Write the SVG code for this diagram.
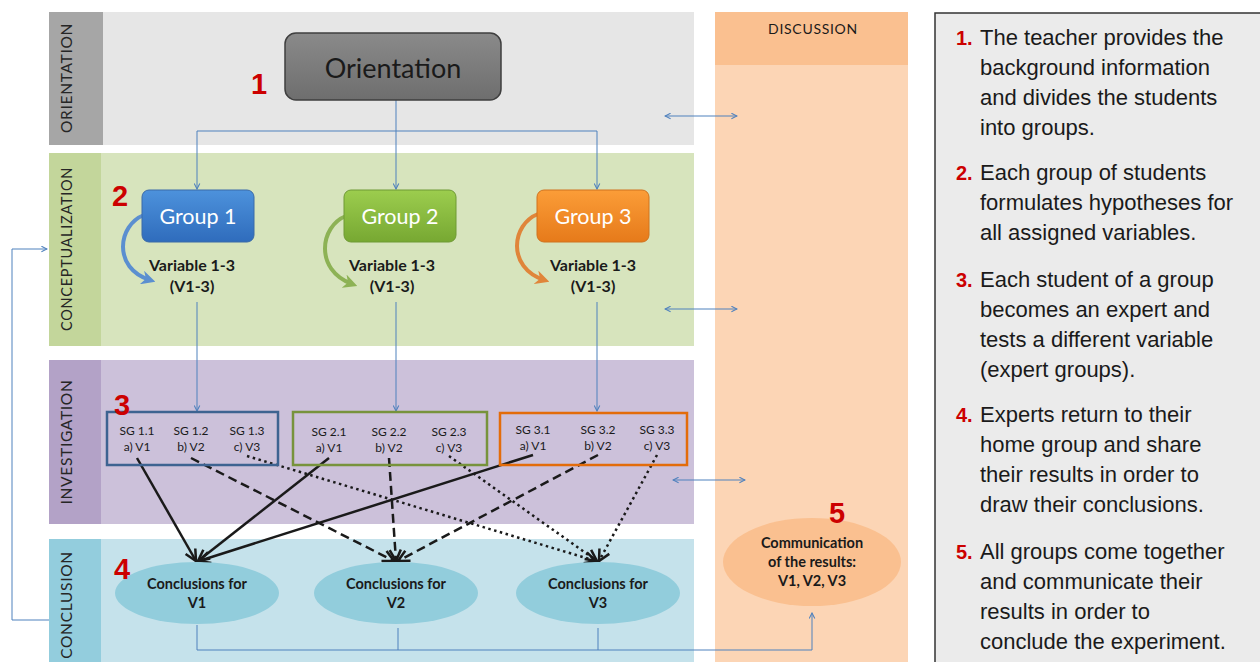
<svg xmlns="http://www.w3.org/2000/svg" width="1260" height="662" viewBox="0 0 1260 662">
<defs>
<style>
.band-label{font-family:Lato,"Open Sans",sans-serif;font-size:15.5px;fill:#262626;text-anchor:middle;letter-spacing:0.7px}
.num{font-family:"Liberation Sans",Arial,sans-serif;font-size:29px;font-weight:bold;fill:#cc0000}
.grp{font-family:Lato,"Open Sans",sans-serif;font-size:21.5px;fill:#ffffff;text-anchor:middle}
.var{font-family:Lato,"Open Sans",sans-serif;font-size:16px;font-weight:bold;fill:#1a1a1a;text-anchor:middle}
.sg{font-family:Lato,"Open Sans",sans-serif;font-size:12px;fill:#1a1a1a;text-anchor:middle}
.conc{font-family:Lato,"Open Sans",sans-serif;font-size:14.5px;font-weight:bold;fill:#1a1a1a;text-anchor:middle}
.blue{fill:none;stroke:#4f81bd;stroke-width:1}
.blk{fill:none;stroke:#1a1a1a;stroke-width:2.5}
.panel{font-family:"Liberation Sans",Arial,sans-serif;font-size:22px;fill:#1a1a1a}
.pnum{font-family:"Liberation Sans",Arial,sans-serif;font-size:20px;font-weight:bold;fill:#cc0000}
</style>
<linearGradient id="gOri" x1="0" y1="0" x2="0" y2="1"><stop offset="0" stop-color="#8a8a8a"/><stop offset="1" stop-color="#6e6e6e"/></linearGradient>
<linearGradient id="gG1" x1="0" y1="0" x2="0" y2="1"><stop offset="0" stop-color="#4d92dc"/><stop offset="1" stop-color="#2f6cbc"/></linearGradient>
<linearGradient id="gG2" x1="0" y1="0" x2="0" y2="1"><stop offset="0" stop-color="#9ccd4e"/><stop offset="1" stop-color="#77a832"/></linearGradient>
<linearGradient id="gG3" x1="0" y1="0" x2="0" y2="1"><stop offset="0" stop-color="#fb9d38"/><stop offset="1" stop-color="#e67a1a"/></linearGradient>
<marker id="aBlue" viewBox="0 0 10 10" refX="9" refY="5" markerWidth="7" markerHeight="7" markerUnits="userSpaceOnUse" orient="auto-start-reverse"><path d="M1,1 L9,5 L1,9" fill="none" stroke="#4f81bd" stroke-width="1.5"/></marker>
<marker id="aBlk" viewBox="0 0 10 10" refX="9" refY="5" markerWidth="14" markerHeight="14" markerUnits="userSpaceOnUse" orient="auto"><path d="M1,1 L9,5 L1,9" fill="none" stroke="#1a1a1a" stroke-width="1.8"/></marker>
<marker id="cB" viewBox="0 0 10 10" refX="6" refY="5" markerWidth="14" markerHeight="14" markerUnits="userSpaceOnUse" orient="auto"><path d="M0,0 L10,5 L0,10 L3,5 Z" fill="#5b8fd0"/></marker>
<marker id="cG" viewBox="0 0 10 10" refX="6" refY="5" markerWidth="14" markerHeight="14" markerUnits="userSpaceOnUse" orient="auto"><path d="M0,0 L10,5 L0,10 L3,5 Z" fill="#8db255"/></marker>
<marker id="cO" viewBox="0 0 10 10" refX="6" refY="5" markerWidth="14" markerHeight="14" markerUnits="userSpaceOnUse" orient="auto"><path d="M0,0 L10,5 L0,10 L3,5 Z" fill="#e0853a"/></marker>
</defs>
<rect x="0" y="0" width="1260" height="662" fill="#ffffff"/>

<g id="bands">
<rect x="49" y="12" width="645" height="133" fill="#e6e6e6"/>
<rect x="49" y="12" width="54" height="133" fill="#a6a6a6"/>
<text class="band-label" transform="translate(72,78) rotate(-90)">ORIENTATION</text>
<rect x="49" y="153" width="645" height="193" fill="#d7e4bd"/>
<rect x="49" y="153" width="52" height="193" fill="#c3d69b"/>
<text class="band-label" transform="translate(72,249) rotate(-90)" style="font-size:14.5px">CONCEPTUALIZATION</text>
<rect x="49" y="360" width="645" height="164" fill="#ccc1da"/>
<rect x="49" y="360" width="52" height="164" fill="#b3a2c7"/>
<text class="band-label" transform="translate(72,442) rotate(-90)">INVESTIGATION</text>
<rect x="49" y="539" width="645" height="123" fill="#c5e2eb"/>
<rect x="49" y="539" width="52" height="123" fill="#93cddd"/>
<text class="band-label" transform="translate(72,605) rotate(-90)">CONCLUSION</text>
</g>

<g id="discussion">
<rect x="715" y="12" width="193" height="650" fill="#fcd5b5"/>
<rect x="715" y="12" width="193" height="53" fill="#fac090"/>
<text class="band-label" x="813" y="34" style="font-size:14px;fill:#1a1a1a">DISCUSSION</text>
</g>

<g id="panel">
<rect x="935" y="13" width="330" height="655" fill="#ebebeb" stroke="#333333" stroke-width="1.5"/>
<text class="pnum" x="956" y="45">1.</text>
<text class="panel" x="980" y="45">The teacher provides the</text>
<text class="panel" x="980" y="75">background information</text>
<text class="panel" x="980" y="105">and divides the students</text>
<text class="panel" x="980" y="135">into groups.</text>
<text class="pnum" x="956" y="180">2.</text>
<text class="panel" x="980" y="180">Each group of students</text>
<text class="panel" x="980" y="210">formulates hypotheses for</text>
<text class="panel" x="980" y="240">all assigned variables.</text>
<text class="pnum" x="956" y="287">3.</text>
<text class="panel" x="980" y="287">Each student of a group</text>
<text class="panel" x="980" y="317">becomes an expert and</text>
<text class="panel" x="980" y="347">tests a different variable</text>
<text class="panel" x="980" y="377">(expert groups).</text>
<text class="pnum" x="956" y="422">4.</text>
<text class="panel" x="980" y="422">Experts return to their</text>
<text class="panel" x="980" y="452">home group and share</text>
<text class="panel" x="980" y="482">their results in order to</text>
<text class="panel" x="980" y="512">draw their conclusions.</text>
<text class="pnum" x="956" y="559">5.</text>
<text class="panel" x="980" y="559">All groups come together</text>
<text class="panel" x="980" y="589">and communicate their</text>
<text class="panel" x="980" y="619">results in order to</text>
<text class="panel" x="980" y="649">conclude the experiment.</text>
</g>

<g id="connectors">
<path class="blue" d="M396,100 V131"/>
<path class="blue" d="M197,131 H597"/>
<path class="blue" d="M197,131 V189" marker-end="url(#aBlue)"/>
<path class="blue" d="M396,131 V189" marker-end="url(#aBlue)"/>
<path class="blue" d="M597,131 V189" marker-end="url(#aBlue)"/>
<path class="blue" d="M197,302 V411" marker-end="url(#aBlue)"/>
<path class="blue" d="M396,302 V411" marker-end="url(#aBlue)"/>
<path class="blue" d="M597,302 V411" marker-end="url(#aBlue)"/>
<path class="blue" d="M665,116 H737" marker-start="url(#aBlue)" marker-end="url(#aBlue)"/>
<path class="blue" d="M665,309 H737" marker-start="url(#aBlue)" marker-end="url(#aBlue)"/>
<path class="blue" d="M673,480 H745" marker-start="url(#aBlue)" marker-end="url(#aBlue)"/>
<path class="blue" d="M49,620 H12 V249 H47" marker-end="url(#aBlue)"/>
<path class="blue" d="M197,625 V650 H812 V613" marker-end="url(#aBlue)"/>
<path class="blue" d="M398,628 V650"/>
<path class="blue" d="M598,628 V650"/>
<path d="M144,215 C118,225 112,268 150,280" fill="none" stroke="#5b8fd0" stroke-width="4" marker-end="url(#cB)"/>
<path d="M346,216 C320,226 314,270 352,284" fill="none" stroke="#8db255" stroke-width="4" marker-end="url(#cG)"/>
<path d="M538,214 C512,224 506,267 544,280" fill="none" stroke="#e0853a" stroke-width="4" marker-end="url(#cO)"/>
<path class="blk" d="M137,458 L196,561" marker-end="url(#aBlk)"/>
<path class="blk" d="M329,458 L198,561" marker-end="url(#aBlk)"/>
<path class="blk" d="M533,455 L199,561" marker-end="url(#aBlk)"/>
<path class="blk" d="M191,458 L394,561" stroke-dasharray="9,5" marker-end="url(#aBlk)"/>
<path class="blk" d="M389,458 L396,561" stroke-dasharray="9,5" marker-end="url(#aBlk)"/>
<path class="blk" d="M598,455 L398,561" stroke-dasharray="9,5" marker-end="url(#aBlk)"/>
<path class="blk" d="M247,456 L596,561" stroke-dasharray="2.5,3.5" marker-end="url(#aBlk)"/>
<path class="blk" d="M449,456 L597,561" stroke-dasharray="2.5,3.5" marker-end="url(#aBlk)"/>
<path class="blk" d="M657,455 L599,561" stroke-dasharray="2.5,3.5" marker-end="url(#aBlk)"/>
</g>

<g id="orientation">
<rect x="285" y="33" width="216" height="67" rx="11" fill="url(#gOri)" stroke="#3f3f3f" stroke-width="1.5"/>
<text x="393" y="78" style="font-family:Lato,'Open Sans',sans-serif;font-size:27px;fill:#1a1a1a;text-anchor:middle">Orientation</text>
<text class="num" x="251" y="94">1</text>
</g>

<g id="group1">
<rect x="142" y="190" width="112" height="52" rx="7" fill="url(#gG1)" stroke="#3a6aa8" stroke-width="1"/>
<text class="grp" x="198" y="224">Group 1</text>
<text class="num" x="112" y="206">2</text>
<text class="var" x="192" y="271">Variable 1-3</text>
<text class="var" x="192" y="292">(V1-3)</text>
</g>
<g id="group2">
<rect x="344" y="190" width="112" height="52" rx="7" fill="url(#gG2)" stroke="#6f9a35" stroke-width="1"/>
<text class="grp" x="400" y="224">Group 2</text>
<text class="var" x="392" y="271">Variable 1-3</text>
<text class="var" x="392" y="292">(V1-3)</text>
</g>
<g id="group3">
<rect x="537" y="190" width="112" height="52" rx="7" fill="url(#gG3)" stroke="#d0731e" stroke-width="1"/>
<text class="grp" x="593" y="224">Group 3</text>
<text class="var" x="593" y="271">Variable 1-3</text>
<text class="var" x="593" y="292">(V1-3)</text>
</g>

<g id="sg1">
<rect x="107" y="412" width="171" height="53" fill="none" stroke="#3d6391" stroke-width="2.5"/>
<text class="num" x="114" y="415">3</text>
<text class="sg" x="137" y="435">SG 1.1</text><text class="sg" x="137" y="451">a) V1</text>
<text class="sg" x="191" y="435">SG 1.2</text><text class="sg" x="191" y="451">b) V2</text>
<text class="sg" x="247" y="435">SG 1.3</text><text class="sg" x="247" y="451">c) V3</text>
</g>
<g id="sg2">
<rect x="293" y="412" width="194" height="53" fill="none" stroke="#77933c" stroke-width="2.5"/>
<text class="sg" x="329" y="436">SG 2.1</text><text class="sg" x="329" y="452">a) V1</text>
<text class="sg" x="389" y="436">SG 2.2</text><text class="sg" x="389" y="452">b) V2</text>
<text class="sg" x="449" y="436">SG 2.3</text><text class="sg" x="449" y="452">c) V3</text>
</g>
<g id="sg3">
<rect x="500" y="413" width="187" height="52" fill="none" stroke="#e36c0a" stroke-width="2.5"/>
<text class="sg" x="533" y="434">SG 3.1</text><text class="sg" x="533" y="450">a) V1</text>
<text class="sg" x="598" y="434">SG 3.2</text><text class="sg" x="598" y="450">b) V2</text>
<text class="sg" x="657" y="434">SG 3.3</text><text class="sg" x="657" y="450">c) V3</text>
</g>

<g id="conc1">
<ellipse cx="197" cy="593" rx="82" ry="31" fill="#92cddc"/>
<text class="num" x="114" y="579">4</text>
<text class="conc" x="197" y="589">Conclusions for</text>
<text class="conc" x="197" y="608">V1</text>
</g>
<g id="conc2">
<ellipse cx="396" cy="593" rx="82" ry="31" fill="#92cddc"/>
<text class="conc" x="396" y="589">Conclusions for</text>
<text class="conc" x="396" y="608">V2</text>
</g>
<g id="conc3">
<ellipse cx="598" cy="593" rx="82" ry="31" fill="#92cddc"/>
<text class="conc" x="598" y="589">Conclusions for</text>
<text class="conc" x="598" y="608">V3</text>
</g>

<g id="communication">
<ellipse cx="812" cy="562" rx="89" ry="44" fill="#fac090"/>
<text class="num" x="829" y="523">5</text>
<text class="conc" x="812" y="548">Communication</text>
<text class="conc" x="812" y="567">of the results:</text>
<text class="conc" x="812" y="586">V1, V2, V3</text>
</g>
</svg>
